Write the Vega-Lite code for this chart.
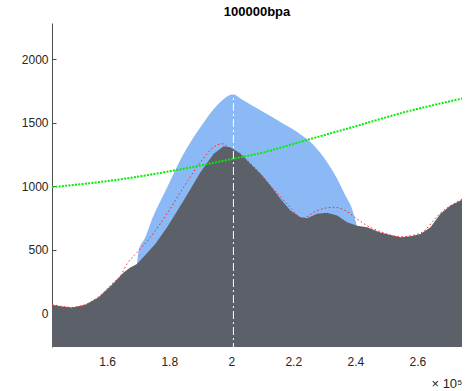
{
  "$schema": "https://vega.github.io/schema/vega-lite/v6.json",
  "width": 410,
  "height": 324,
  "autosize": {"type": "none"},
  "padding": {"left": 52, "top": 23, "right": 4, "bottom": 44},
  "background": "white",
  "title": {"text": "100000bpa", "fontSize": 13, "fontWeight": "bold", "font": "Liberation Sans", "color": "#000000", "offset": 4, "anchor": "middle"},
  "config": {"view": {"stroke": null}, "axis": {"labelFont": "Liberation Sans", "titleFont": "Liberation Sans", "labelFontSize": 12, "labelColor": "#262626", "grid": false}},
  "datasets": {
    "gray": [
      {"x": 142200, "y": 66}, {"x": 144900, "y": 54}, {"x": 148650, "y": 44}, {"x": 152950, "y": 66},
      {"x": 157150, "y": 123}, {"x": 161550, "y": 223}, {"x": 165300, "y": 320}, {"x": 167450, "y": 360},
      {"x": 169600, "y": 387}, {"x": 172300, "y": 458}, {"x": 175500, "y": 545}, {"x": 179300, "y": 676},
      {"x": 184650, "y": 887}, {"x": 190050, "y": 1110}, {"x": 194350, "y": 1255}, {"x": 197550, "y": 1313},
      {"x": 199700, "y": 1307}, {"x": 202950, "y": 1255}, {"x": 206150, "y": 1176}, {"x": 209400, "y": 1097},
      {"x": 212600, "y": 1005}, {"x": 215850, "y": 900}, {"x": 219050, "y": 808}, {"x": 222300, "y": 755},
      {"x": 224450, "y": 747}, {"x": 227700, "y": 782}, {"x": 230900, "y": 790}, {"x": 234150, "y": 768},
      {"x": 237350, "y": 715}, {"x": 240600, "y": 689}, {"x": 243800, "y": 676}, {"x": 248100, "y": 636},
      {"x": 251350, "y": 616}, {"x": 254550, "y": 597}, {"x": 257800, "y": 605}, {"x": 261000, "y": 624},
      {"x": 264250, "y": 676}, {"x": 267450, "y": 782}, {"x": 270700, "y": 847}, {"x": 274400, "y": 892}
    ],
    "blue": [
      {"x": 169600, "y": 387}, {"x": 170150, "y": 492}, {"x": 172300, "y": 597}, {"x": 173900, "y": 705},
      {"x": 179300, "y": 989}, {"x": 184650, "y": 1255}, {"x": 190050, "y": 1463}, {"x": 195450, "y": 1637},
      {"x": 200750, "y": 1724}, {"x": 202950, "y": 1690}, {"x": 209400, "y": 1597}, {"x": 215850, "y": 1505},
      {"x": 221250, "y": 1426}, {"x": 226600, "y": 1321}, {"x": 230900, "y": 1189}, {"x": 234150, "y": 1058},
      {"x": 236800, "y": 926}, {"x": 238950, "y": 821}, {"x": 240350, "y": 703}
    ],
    "red": [
      {"x": 142200, "y": 69}, {"x": 148650, "y": 46}, {"x": 152950, "y": 68}, {"x": 157150, "y": 129},
      {"x": 161550, "y": 231}, {"x": 164250, "y": 294}, {"x": 166400, "y": 387}, {"x": 169600, "y": 478},
      {"x": 173900, "y": 597}, {"x": 179300, "y": 784}, {"x": 184650, "y": 992}, {"x": 190050, "y": 1189},
      {"x": 194350, "y": 1307}, {"x": 197050, "y": 1334}, {"x": 199700, "y": 1295}, {"x": 202950, "y": 1255},
      {"x": 206150, "y": 1179}, {"x": 209400, "y": 1100}, {"x": 212600, "y": 1005}, {"x": 215850, "y": 918},
      {"x": 219050, "y": 831}, {"x": 222850, "y": 747}, {"x": 227700, "y": 808}, {"x": 233050, "y": 834},
      {"x": 236800, "y": 808}, {"x": 239850, "y": 755}, {"x": 243800, "y": 689}, {"x": 248100, "y": 642},
      {"x": 254550, "y": 602}, {"x": 261000, "y": 630}, {"x": 267450, "y": 788}, {"x": 274400, "y": 898}
    ],
    "green": [
      {"x": 142200, "y": 992}, {"x": 163150, "y": 1050}, {"x": 184650, "y": 1137}, {"x": 200750, "y": 1216},
      {"x": 209400, "y": 1260}, {"x": 223900, "y": 1360}, {"x": 240050, "y": 1471}, {"x": 256150, "y": 1584},
      {"x": 274400, "y": 1689}
    ],
    "vline": [{"x": 200700}]
  },
  "layer": [
    {
      "data": {"name": "blue"},
      "mark": {"type": "area", "color": "#8ab9f6", "opacity": 1, "interpolate": "monotone"},
      "encoding": {
        "x": {"field": "x", "type": "quantitative", "scale": {"domain": [142200, 274400], "nice": false, "zero": false},
          "axis": {"values": [160000, 180000, 200000, 220000, 240000, 260000], "labelExpr": "format(datum.value/100000, '.1~f')", "domain": false, "ticks": false, "labelPadding": 9, "title": "× 10⁵", "titleFontSize": 13, "titleFontWeight": "normal", "titleColor": "#262626", "titleAnchor": "end", "titleAlign": "right", "titleX": 410, "titleY": 40, "titleBaseline": "alphabetic"}},
        "y": {"field": "y", "type": "quantitative", "scale": {"domain": [-266, 2284], "nice": false, "zero": false},
          "axis": {"values": [0, 500, 1000, 1500, 2000], "format": "d", "title": null, "domainColor": "#4d4d4d", "tickColor": "#4d4d4d", "tickSize": -4, "labelPadding": 8}},
        "y2": {"datum": -266}
      }
    },
    {
      "data": {"name": "gray"},
      "mark": {"type": "area", "color": "#5c6169", "opacity": 1},
      "encoding": {
        "x": {"field": "x", "type": "quantitative"},
        "y": {"field": "y", "type": "quantitative"},
        "y2": {"datum": -266}
      }
    },
    {
      "data": {"name": "red"},
      "mark": {"type": "line", "color": "#ff2020", "strokeWidth": 1, "strokeDash": [1.5, 2.5], "interpolate": "monotone"},
      "encoding": {
        "x": {"field": "x", "type": "quantitative"},
        "y": {"field": "y", "type": "quantitative"}
      }
    },
    {
      "data": {"name": "vline"},
      "mark": {"type": "rule", "color": "#ffffff", "strokeWidth": 1, "strokeDash": [8, 3, 2, 3]},
      "encoding": {
        "x": {"field": "x", "type": "quantitative"}
      }
    },
    {
      "data": {"name": "green"},
      "mark": {"type": "line", "color": "#00ee00", "strokeWidth": 2, "strokeDash": [2, 1.3], "interpolate": "monotone"},
      "encoding": {
        "x": {"field": "x", "type": "quantitative"},
        "y": {"field": "y", "type": "quantitative"}
      }
    }
  ]
}
